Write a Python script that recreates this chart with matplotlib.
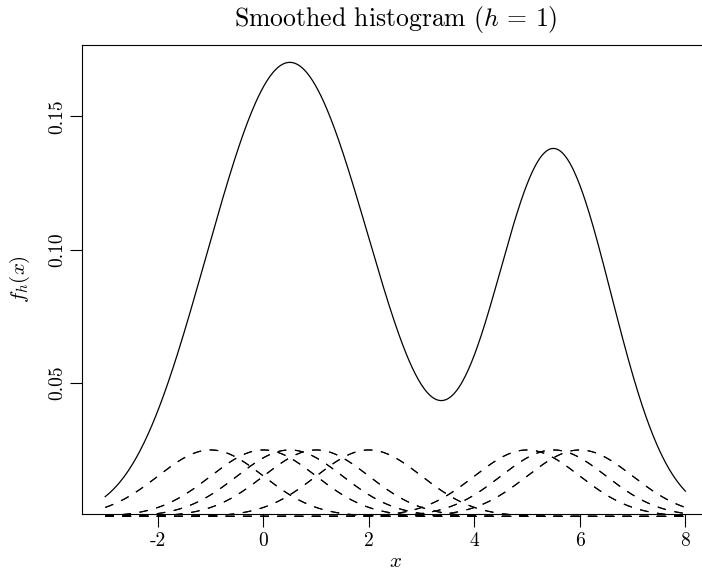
import numpy as np
import matplotlib
matplotlib.use("Agg")
import matplotlib.pyplot as plt

# Observations (each appears twice), bandwidth, grid range
data_points = [-1, -1, 0, 0, 0.5, 0.5, 1, 1, 2, 2, 5, 5, 5.5, 5.5, 6, 6]
bandwidth = 1.0
x_range = [-3, 8]
x_ticks = [-2, 0, 2, 4, 6, 8]
x_tick_labels = ["-2", "0", "2", "4", "6", "8"]
y_ticks = [0.05, 0.10, 0.15]
y_tick_labels = ["0.05", "0.10", "0.15"]

plt.rcParams["font.family"] = ["cmr10", "DejaVu Serif"]
plt.rcParams["mathtext.fontset"] = "cm"
plt.rcParams["axes.formatter.use_mathtext"] = True
plt.rcParams["lines.scale_dashes"] = False

W, H, DPI = 702, 576, 100
fig = plt.figure(figsize=(W / DPI, H / DPI), dpi=DPI)
left, right, top, bottom = 82, 708.6, 45, 514
ax = fig.add_axes([left / W, 1 - bottom / H, (right - left) / W, (bottom - top) / H])

xs = np.linspace(x_range[0], x_range[1], 600)
n = len(data_points)
def kern(x, c):
    u = (x - c) / bandwidth
    return np.exp(-0.5 * u * u) / np.sqrt(2 * np.pi) / (n * bandwidth)

total = np.zeros_like(xs)
for c in data_points:
    k = kern(xs, c)
    total += k
    ax.plot(xs, k, color="black", lw=0.8, linestyle=(0, (6.2, 6.2)), clip_on=False)
ax.plot(xs, total, color="black", lw=0.9)

span = total.max() - total.min()
ax.set_ylim(total.min() - 0.04 * span, total.max() + 0.04 * span)
xspan = x_range[1] - x_range[0]
ax.set_xlim(x_range[0] - 0.04 * xspan, x_range[1] + 0.04 * xspan)

ax.set_xticks(x_ticks)
ax.set_xticklabels(x_tick_labels)
ax.set_yticks(y_ticks)
ax.set_yticklabels(y_tick_labels, rotation=90, va="center")
ax.tick_params(direction="out", length=9, width=0.8, labelsize=14)
ax.tick_params(axis="x", pad=4)
ax.tick_params(axis="y", pad=2)
for s in ax.spines.values():
    s.set_linewidth(0.8)

ax.set_title(r"Smoothed histogram ($h\,=\,1$)", fontsize=18.5, pad=14)
ax.set_xlabel(r"$x$", fontsize=15, labelpad=2)
ax.set_ylabel(r"$f_h(x)$", fontsize=15, labelpad=12)

fig.savefig("out.png", dpi=DPI)
